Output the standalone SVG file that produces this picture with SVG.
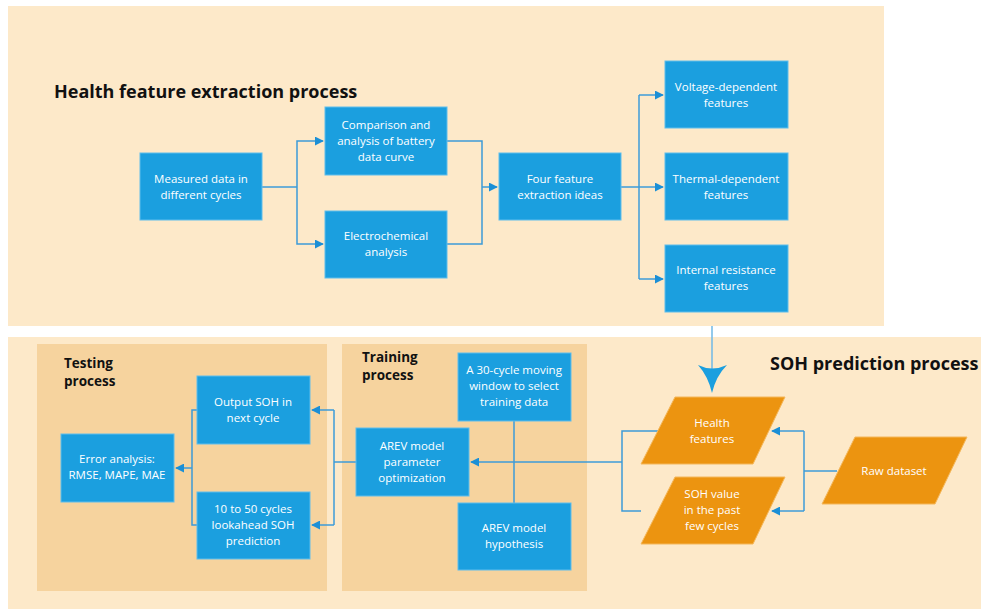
<svg xmlns="http://www.w3.org/2000/svg" width="981" height="609" viewBox="0 0 981 609">
<defs>
<style>
.panel{fill:#fde9c9}
.sub{fill:#f6d39e}
.box{fill:#1b9fdf;stroke:#5fbdec;stroke-width:1}
.para{fill:#ec9410;stroke:#f4b75a;stroke-width:1}
.t{font-family:"Open Sans","Noto Sans",sans-serif;font-size:11.5px;fill:#ffffff;text-anchor:middle}
.h{font-family:"Open Sans","Noto Sans",sans-serif;font-weight:bold;fill:#111111}
.c{fill:none;stroke:#3c9bd8;stroke-width:1.5}
</style>
<marker id="ah" viewBox="0 0 10 10" refX="9" refY="5" markerWidth="6" markerHeight="6" markerUnits="strokeWidth" orient="auto">
<path d="M0,0 L10,5 L0,10 Z" fill="#1b8fd6"/>
</marker>
</defs>
<rect width="981" height="609" fill="#ffffff"/>
<rect class="panel" x="8" y="6" width="876" height="320"/>
<rect class="panel" x="8" y="337" width="973" height="272"/>
<rect class="sub" x="37" y="344" width="290" height="247"/>
<rect class="sub" x="342" y="344" width="245" height="247"/>
<text class="h" x="54" y="98" font-size="18">Health feature extraction process</text>
<text class="h" x="770" y="370" font-size="18">SOH prediction process</text>
<text class="h" x="64" y="368" font-size="13.5">Testing</text>
<text class="h" x="64" y="386" font-size="13.5">process</text>
<text class="h" x="362" y="362" font-size="13.5">Training</text>
<text class="h" x="362" y="380" font-size="13.5">process</text>
<g id="connectors">
<polyline class="c" points="262,187 297,187"/>
<polyline class="c" points="297,187 297,141 323,141" marker-end="url(#ah)"/>
<polyline class="c" points="297,187 297,244 323,244" marker-end="url(#ah)"/>
<polyline class="c" points="447,141 482,141 482,244 447,244"/>
<polyline class="c" points="482,187 497,187" marker-end="url(#ah)"/>
<polyline class="c" points="621,187 639,187"/>
<polyline class="c" points="639,95 639,279"/>
<polyline class="c" points="639,95 663,95" marker-end="url(#ah)"/>
<polyline class="c" points="639,187 663,187" marker-end="url(#ah)"/>
<polyline class="c" points="639,279 663,279" marker-end="url(#ah)"/>
<line x1="712" y1="326" x2="712" y2="380" stroke="#6fb8e6" stroke-width="1.5"/>
<path d="M698,365 Q712,372 727,365 Q716,376 712,393 Q708,376 698,365 Z" fill="#1b9fdf"/>
<polyline class="c" points="837,471 804,471"/>
<polyline class="c" points="804,431 804,511"/>
<polyline class="c" points="804,431 772,431" marker-end="url(#ah)"/>
<polyline class="c" points="804,511 772,511" marker-end="url(#ah)"/>
<polyline class="c" points="660,431 622,431 622,511 641,511"/>
<polyline class="c" points="622,462 471,462" marker-end="url(#ah)"/>
<polyline class="c" points="514,421 514,503"/>
<polyline class="c" points="356,462 334,462"/>
<polyline class="c" points="334,410 334,525"/>
<polyline class="c" points="334,410 312,410" marker-end="url(#ah)"/>
<polyline class="c" points="334,525 312,525" marker-end="url(#ah)"/>
<polyline class="c" points="197,410 192,410 192,525 197,525"/>
<polyline class="c" points="192,468 176,468" marker-end="url(#ah)"/>
</g>
<g id="measured"><rect class="box" x="140" y="153" width="122" height="67"/>
<text class="t" x="201" y="183">Measured data in</text><text class="t" x="201" y="199">different cycles</text></g>
<g id="comparison"><rect class="box" x="325" y="107" width="122" height="68"/>
<text class="t" x="386" y="129">Comparison and</text><text class="t" x="386" y="145">analysis of battery</text><text class="t" x="386" y="161">data curve</text></g>
<g id="electrochemical"><rect class="box" x="325" y="211" width="122" height="67"/>
<text class="t" x="386" y="240">Electrochemical</text><text class="t" x="386" y="256">analysis</text></g>
<g id="four"><rect class="box" x="499" y="153" width="122" height="67"/>
<text class="t" x="560" y="183">Four feature</text><text class="t" x="560" y="199">extraction ideas</text></g>
<g id="voltage"><rect class="box" x="665" y="61" width="123" height="67"/>
<text class="t" x="726" y="91">Voltage-dependent</text><text class="t" x="726" y="107">features</text></g>
<g id="thermal"><rect class="box" x="665" y="153" width="123" height="67"/>
<text class="t" x="726" y="183">Thermal-dependent</text><text class="t" x="726" y="199">features</text></g>
<g id="internal"><rect class="box" x="665" y="245" width="123" height="67"/>
<text class="t" x="726" y="274">Internal resistance</text><text class="t" x="726" y="290">features</text></g>
<g id="output"><rect class="box" x="197" y="376" width="113" height="68"/>
<text class="t" x="253" y="406">Output SOH in</text><text class="t" x="253" y="422">next cycle</text></g>
<g id="lookahead"><rect class="box" x="197" y="492" width="113" height="67"/>
<text class="t" x="253" y="513">10 to 50 cycles</text><text class="t" x="253" y="529">lookahead SOH</text><text class="t" x="253" y="545">prediction</text></g>
<g id="error"><rect class="box" x="61" y="434" width="113" height="68"/>
<text class="t" x="117" y="463">Error analysis:</text><text class="t" x="117" y="479">RMSE, MAPE, MAE</text></g>
<g id="arevparam"><rect class="box" x="356" y="428" width="113" height="68"/>
<text class="t" x="412" y="450">AREV model</text><text class="t" x="412" y="466">parameter</text><text class="t" x="412" y="482">optimization</text></g>
<g id="window"><rect class="box" x="458" y="353" width="113" height="68"/>
<text class="t" x="514" y="374">A 30-cycle moving</text><text class="t" x="514" y="390">window to select</text><text class="t" x="514" y="406">training data</text></g>
<g id="hypothesis"><rect class="box" x="458" y="503" width="113" height="67"/>
<text class="t" x="514" y="532">AREV model</text><text class="t" x="514" y="548">hypothesis</text></g>
<g id="health"><polygon class="para" points="675,397 785,397 753,464 641,464"/>
<text class="t" x="712" y="427">Health</text><text class="t" x="712" y="443">features</text></g>
<g id="sohvalue"><polygon class="para" points="675,477 785,477 753,544 641,544"/>
<text class="t" x="712" y="498">SOH value</text><text class="t" x="712" y="514">in the past</text><text class="t" x="712" y="530">few cycles</text></g>
<g id="raw"><polygon class="para" points="855,437 967,437 935,504 822,504"/>
<text class="t" x="894" y="475">Raw dataset</text></g>
</svg>
